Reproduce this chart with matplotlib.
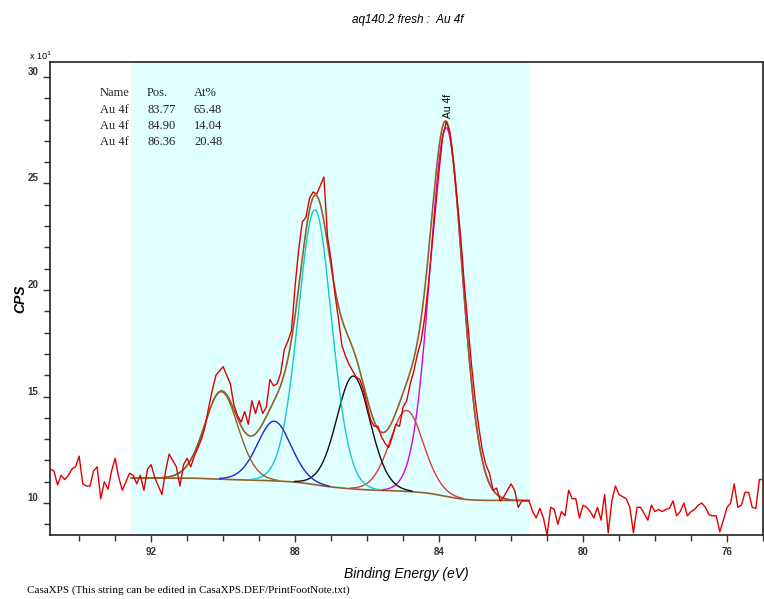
import numpy as np
import matplotlib
matplotlib.use("Agg")
import matplotlib.pyplot as plt
from matplotlib.ticker import MultipleLocator

# raw spectrum: 94.8 eV down to 75.0 eV in 0.1 eV steps
e_start = 94.8
e_step = 0.1
cps = [
    11.6, 11.5, 10.85, 11.3, 11.1, 11.3, 11.6, 11.7, 12.2, 10.9,   # 94.8
    10.8, 10.8, 11.5, 11.7, 10.2, 11.0, 10.65, 11.5, 12.1, 11.2,   # 93.8
    10.6, 11.0, 11.4, 11.3, 10.9, 11.3, 10.6, 11.6, 11.8, 11.2,    # 92.8
    10.8, 10.4, 11.5, 12.3, 12.0, 11.7, 10.8, 11.8, 12.1, 11.7,    # 91.8
    12.2, 12.6, 13.0, 13.6, 14.5, 15.3, 16.0, 16.2, 16.4, 16.0,    # 90.8
    15.6, 14.6, 14.1, 13.8, 14.3, 13.7, 14.8, 14.2, 14.8, 14.2,    # 89.8
    14.5, 15.8, 15.5, 15.6, 16.1, 17.2, 17.6, 18.1, 20.2, 21.9,    # 88.8
    23.2, 23.4, 24.3, 24.6, 24.5, 24.9, 25.3, 22.5, 21.4, 19.9,    # 87.8
    18.7, 17.4, 16.9, 16.5, 16.2, 15.9, 15.8, 15.3, 14.6, 13.9,    # 86.8
    13.6, 13.6, 13.1, 12.8, 12.6, 13.1, 13.7, 13.6, 14.5, 14.8,    # 85.8
    15.6, 16.2, 17.0, 17.6, 18.7, 20.2, 22.0, 23.8, 25.6, 27.2,    # 84.8
    27.9, 27.4, 26.0, 24.3, 22.5, 20.3, 18.4, 16.5, 14.9, 13.6,    # 83.8
    12.5, 11.8, 11.4, 10.6, 10.7, 10.1, 10.3, 10.6, 10.9, 10.6,    # 82.8
    9.8, 10.1, 10.1, 10.1, 9.6, 9.3, 9.75, 9.3, 8.5, 9.8,          # 81.8
    9.7, 9.0, 9.6, 9.4, 10.6, 10.2, 10.2, 9.3, 9.9, 9.8,           # 80.8
    9.6, 9.3, 9.8, 9.2, 10.4, 8.6, 10.1, 10.8, 10.4, 10.3,         # 79.8
    10.2, 9.8, 8.6, 9.8, 9.8, 9.5, 9.2, 9.9, 9.6, 9.7,             # 78.8
    9.6, 9.7, 9.75, 10.1, 9.4, 9.6, 10.0, 9.4, 9.6, 9.7,           # 77.8
    9.9, 10.0, 9.8, 9.45, 9.4, 9.4, 8.65, 9.2, 9.8, 10.0,          # 76.8
    10.9, 9.8, 9.9, 10.5, 10.5, 9.8, 9.75, 11.1, 11.1,             # 75.8
]
energy = e_start - e_step * np.arange(len(cps))

# fitted components (position, height above background, fwhm)
comp_pos = [83.80, 84.90, 86.38, 87.45, 88.58, 90.05]
comp_height = [17.3, 3.8, 5.3, 12.9, 2.8, 4.1]
comp_fwhm = [1.12, 1.15, 1.15, 1.15, 1.15, 1.15]
comp_colors = ["#dd00dd", "#e03a3a", "#101010", "#18c8c8", "#2424d0", "#93602a"]

# region and background end points
region_hi = 92.55
region_lo = 81.5
bg_hi = 11.17
bg_lo = 10.12

table_rows = [["Name", "Pos.", "At%"],
              ["Au 4f", "83.77", "65.48"],
              ["Au 4f", "84.90", "14.04"],
              ["Au 4f", "86.36", "20.48"]]


def gl(x, x0, h, w, m=0.3):
    d = (x - x0) ** 2 / w ** 2
    return h * np.exp(-4 * np.log(2) * (1 - m) * d) / (1 + 4 * m * d)


e_fit = np.linspace(region_lo, region_hi, 500)
comps = [gl(e_fit, p, h, w) for p, h, w in zip(comp_pos, comp_height, comp_fwhm)]
total = np.sum(comps, axis=0)
area = np.concatenate([[0], np.cumsum((total[1:] + total[:-1]) / 2 * np.diff(e_fit))])
bg = bg_lo + (bg_hi - bg_lo) * area / area[-1]
envelope = bg + total

W, H = 764, 599
fig = plt.figure(figsize=(W / 100, H / 100), dpi=100)
ax = fig.add_axes([50 / W, 1 - 535 / H, 713 / W, 473 / H])

ax.axvspan(region_lo, region_hi, color="#e0ffff", lw=0, zorder=0)
ax.plot(e_fit, bg, color="#93602a", lw=1.2, zorder=2)
for c, col in zip(comps, comp_colors):
    mask = c > 0.03
    ax.plot(e_fit[mask], (bg + c)[mask], color=col, lw=1.0, zorder=3)
ax.plot(e_fit, envelope, color="#93602a", lw=1.2, zorder=4)
ax.plot(energy, cps, color="#e00000", lw=1.0, zorder=5)

ax.text(83.75, 28.05, "Au 4f", rotation=90, ha="center", va="bottom",
        fontsize=7.5, family="Liberation Sans", zorder=6)

ax.set_xlim(94.81, 75.0)
ax.set_ylim(8.5, 30.7)
ax.xaxis.set_major_locator(MultipleLocator(4))
ax.xaxis.set_minor_locator(MultipleLocator(1))
ax.yaxis.set_major_locator(MultipleLocator(5))
ax.yaxis.set_minor_locator(MultipleLocator(1))
ax.tick_params(which="both", direction="out", color="#333333", width=1)
ax.tick_params(which="major", length=5, labelsize=7)
ax.tick_params(which="minor", length=4)
for lab in ax.get_xticklabels() + ax.get_yticklabels():
    lab.set_family("Liberation Sans")
    lab.set_fontweight("bold")
    lab.set_color("#333333")
for lab in ax.get_yticklabels():
    lab.set_verticalalignment("bottom")
for sp in ax.spines.values():
    sp.set_linewidth(1.2)
    sp.set_color("#222222")

ax.set_xlabel("Binding Energy (eV)", fontsize=10, style="italic",
              family="Liberation Sans", labelpad=7)
ax.set_ylabel("CPS", fontsize=10, style="italic", fontweight="bold",
              family="Liberation Sans", labelpad=0)

fig.text(408 / W, 1 - 20 / H, "aq140.2 fresh :  Au 4f", ha="center", va="center",
         fontsize=8.5, style="italic", family="Liberation Sans")
fig.text(29 / W, 1 - 56 / H, r"x 10$^{1}$", ha="left", va="center",
         fontsize=6.5, family="Liberation Sans")
fig.text(27 / W, 1 - 590 / H, "CasaXPS (This string can be edited in CasaXPS.DEF/PrintFootNote.txt)",
         ha="left", va="center", fontsize=8, family="Liberation Serif")

col_x = [100, 147, 194]
row_y = [93, 110, 126, 142]
for r, row in enumerate(table_rows):
    for c, txt in enumerate(row):
        fig.text(col_x[c] / W, 1 - row_y[r] / H, txt, ha="left", va="center",
                 fontsize=9, family="Liberation Serif", color="#222222")

fig.savefig("out.png", dpi=100)
